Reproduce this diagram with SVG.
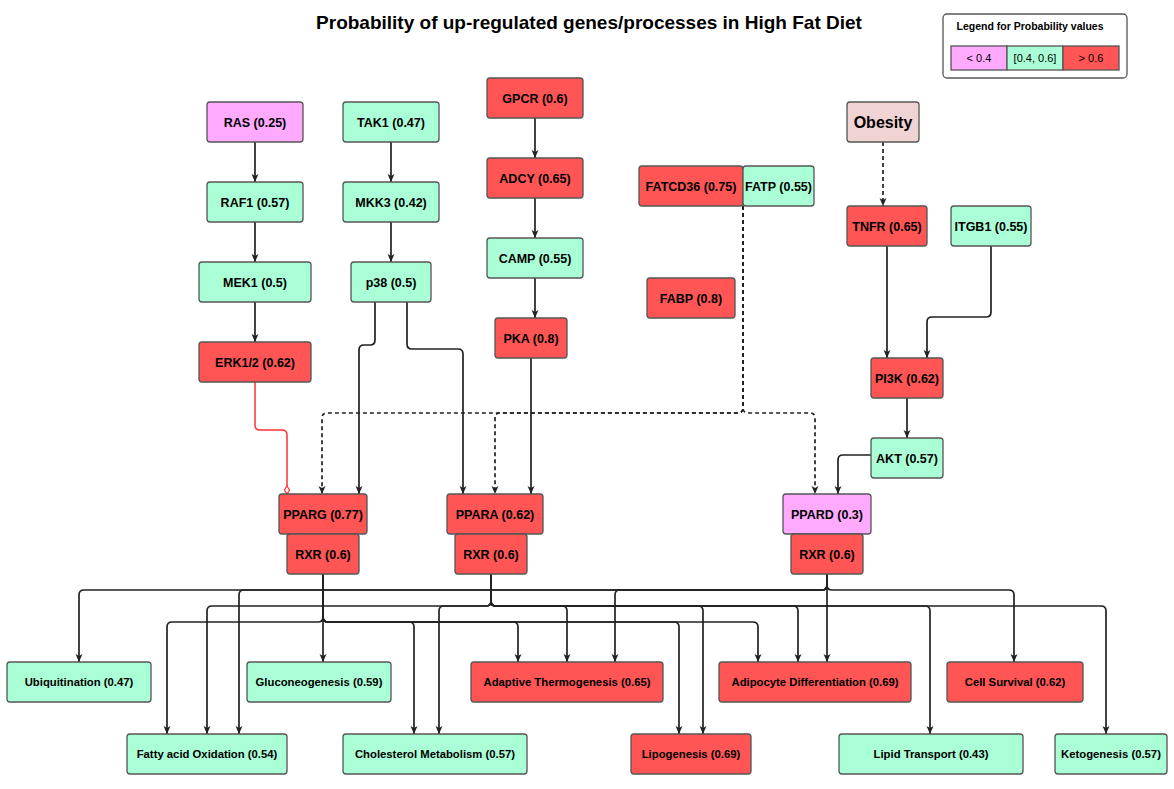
<svg xmlns="http://www.w3.org/2000/svg" width="1174" height="789" viewBox="0 0 1174 789">
<style>
.n rect{stroke:#555;stroke-width:1.3}
.r{fill:#FF5555}.g{fill:#AAFFD6}.p{fill:#FFAAFF}.o{fill:#F0D4D4}
text{font-family:"Liberation Sans",Arial,sans-serif;fill:#000;text-anchor:middle}
.t{font-size:12.5px;font-weight:bold}
.b{font-size:11.3px;font-weight:bold}
.e{fill:none;stroke:#222;stroke-width:1.7;marker-end:url(#a)}
.d{fill:none;stroke:#222;stroke-width:1.7;stroke-dasharray:4 3;marker-end:url(#a)}
</style>
<defs>
<marker id="a" markerUnits="userSpaceOnUse" markerWidth="10" markerHeight="9" refX="8" refY="3.5" orient="auto"><path d="M0,0 L8,3.5 L0,7 L2,3.5 Z" fill="#222" stroke="none"/></marker>
</defs>
<rect width="1174" height="789" fill="#fff"/>
<text x="589" y="29" style="font-size:19px;font-weight:bold">Probability of up-regulated genes/processes in High Fat Diet</text>
<g id="legend">
<rect x="943" y="14" width="184" height="64" rx="4" fill="#fff" stroke="#555" stroke-width="1.3"/>
<text x="1030" y="30" style="font-size:10.5px;font-weight:bold">Legend for Probability values</text>
<rect x="951" y="46" width="56" height="24" class="p" stroke="#555" stroke-width="1.3"/>
<rect x="1007" y="46" width="56" height="24" class="g" stroke="#555" stroke-width="1.3"/>
<rect x="1063" y="46" width="56" height="24" class="r" stroke="#555" stroke-width="1.3"/>
<text x="979" y="62" style="font-size:11px">&lt; 0.4</text>
<text x="1035" y="62" style="font-size:11px">[0.4, 0.6]</text>
<text x="1091" y="62" style="font-size:11px">&gt; 0.6</text>
</g>
<g id="connectors">
<path class="e" d="M255 142V182"/>
<path class="e" d="M255 222V262"/>
<path class="e" d="M255 302V342"/>
<path class="e" d="M391 142V182"/>
<path class="e" d="M391 222V262"/>
<path class="e" d="M535 118V158"/>
<path class="e" d="M535 198V238"/>
<path class="e" d="M535 278V318"/>
<path class="e" d="M375 302V340Q375 345 370 345H364Q359 345 359 350V494"/>
<path class="e" d="M407 302V344Q407 349 412 349H458Q463 349 463 354V494"/>
<path class="e" d="M531 358V494"/>
<path fill="none" stroke="#FF3333" stroke-width="1.5" d="M255 382V425Q255 430 260 430H282Q287 430 287 435V486"/>
<polygon points="287,486 289.5,490 287,494 284.5,490" fill="#fff" stroke="#FF3333" stroke-width="1.2"/>
<path class="d" d="M743 206V408Q743 413 738 413H327Q322 413 322 418V494"/>
<path class="d" d="M743 206V408Q743 413 738 413H500Q495 413 495 418V494"/>
<path class="d" d="M743 206V408Q743 413 748 413H810Q815 413 815 418V494"/>
<path class="d" d="M883 142V206"/>
<path class="e" d="M887 246V358"/>
<path class="e" d="M991 246V312Q991 317 986 317H932Q927 317 927 322V358"/>
<path class="e" d="M907 398V438"/>
<path class="e" d="M871 455H843Q838 455 838 460V494"/>
<path class="e" d="M323 574V617Q323 622 318 622H172Q167 622 167 627V734"/>
<path class="e" d="M323 574V662"/>
<path class="e" d="M323 574V617Q323 622 328 622H409Q414 622 414 627V734"/>
<path class="e" d="M323 574V617Q323 622 328 622H513Q518 622 518 627V662"/>
<path class="e" d="M323 574V617Q323 622 328 622H674Q679 622 679 627V734"/>
<path class="e" d="M323 574V617Q323 622 328 622H753Q758 622 758 627V662"/>
<path class="e" d="M491 574V601Q491 606 486 606H212Q207 606 207 611V734"/>
<path class="e" d="M491 574V601Q491 606 486 606H444Q439 606 439 611V734"/>
<path class="e" d="M491 574V601Q491 606 496 606H562Q567 606 567 611V662"/>
<path class="e" d="M491 574V601Q491 606 496 606H698Q703 606 703 611V734"/>
<path class="e" d="M491 574V601Q491 606 496 606H793Q798 606 798 611V662"/>
<path class="e" d="M491 574V601Q491 606 496 606H925Q930 606 930 611V734"/>
<path class="e" d="M491 574V601Q491 606 496 606H1101Q1106 606 1106 611V734"/>
<path class="e" d="M827 574V585Q827 590 822 590H84Q79 590 79 595V662"/>
<path class="e" d="M827 574V585Q827 590 822 590H244Q239 590 239 595V734"/>
<path class="e" d="M827 574V585Q827 590 822 590H620Q615 590 615 595V662"/>
<path class="e" d="M827 574V585Q827 590 832 590H1009Q1014 590 1014 595V662"/>
<path class="e" d="M827 574V662"/>
</g>
<g id="RAS" class="n"><rect x="207" y="102" width="96" height="40" rx="3" class="p"/><text x="255" y="126.5" class="t">RAS (0.25)</text></g>
<g id="RAF1" class="n"><rect x="207" y="182" width="96" height="40" rx="3" class="g"/><text x="255" y="206.5" class="t">RAF1 (0.57)</text></g>
<g id="MEK1" class="n"><rect x="199" y="262" width="112" height="40" rx="3" class="g"/><text x="255" y="286.5" class="t">MEK1 (0.5)</text></g>
<g id="ERK12" class="n"><rect x="199" y="342" width="112" height="40" rx="3" class="r"/><text x="255" y="366.5" class="t">ERK1/2 (0.62)</text></g>
<g id="TAK1" class="n"><rect x="343" y="102" width="96" height="40" rx="3" class="g"/><text x="391" y="126.5" class="t">TAK1 (0.47)</text></g>
<g id="MKK3" class="n"><rect x="343" y="182" width="96" height="40" rx="3" class="g"/><text x="391" y="206.5" class="t">MKK3 (0.42)</text></g>
<g id="p38" class="n"><rect x="351" y="262" width="80" height="40" rx="3" class="g"/><text x="391" y="286.5" class="t">p38 (0.5)</text></g>
<g id="GPCR" class="n"><rect x="487" y="78" width="96" height="40" rx="3" class="r"/><text x="535" y="102.5" class="t">GPCR (0.6)</text></g>
<g id="ADCY" class="n"><rect x="487" y="158" width="96" height="40" rx="3" class="r"/><text x="535" y="182.5" class="t">ADCY (0.65)</text></g>
<g id="CAMP" class="n"><rect x="487" y="238" width="96" height="40" rx="3" class="g"/><text x="535" y="262.5" class="t">CAMP (0.55)</text></g>
<g id="PKA" class="n"><rect x="495" y="318" width="72" height="40" rx="3" class="r"/><text x="531" y="342.5" class="t">PKA (0.8)</text></g>
<g id="FATCD36" class="n"><rect x="639" y="166" width="104" height="40" rx="3" class="r"/><text x="691" y="190.5" class="t">FATCD36 (0.75)</text></g>
<g id="FATP" class="n"><rect x="743" y="166" width="71" height="40" rx="3" class="g"/><text x="778.5" y="190.5" class="t">FATP (0.55)</text></g>
<g id="FABP" class="n"><rect x="647" y="278" width="88" height="40" rx="3" class="r"/><text x="691" y="302.5" class="t">FABP (0.8)</text></g>
<g id="Obesity" class="n"><rect x="847" y="102" width="72" height="40" rx="3" class="o"/><text x="883" y="128" style="font-size:16px;font-weight:bold">Obesity</text></g>
<g id="TNFR" class="n"><rect x="847" y="206" width="80" height="40" rx="3" class="r"/><text x="887" y="230.5" class="t">TNFR (0.65)</text></g>
<g id="ITGB1" class="n"><rect x="951" y="206" width="80" height="40" rx="3" class="g"/><text x="991" y="230.5" class="t">ITGB1 (0.55)</text></g>
<g id="PI3K" class="n"><rect x="871" y="358" width="72" height="40" rx="3" class="r"/><text x="907" y="382.5" class="t">PI3K (0.62)</text></g>
<g id="AKT" class="n"><rect x="871" y="438" width="72" height="40" rx="3" class="g"/><text x="907" y="462.5" class="t">AKT (0.57)</text></g>
<g id="PPARG" class="n"><rect x="279" y="494" width="88" height="40" rx="3" class="r"/><text x="323" y="518.5" class="t">PPARG (0.77)</text></g>
<g id="RXR1" class="n"><rect x="287" y="534" width="72" height="40" rx="3" class="r"/><text x="323" y="558.5" class="t">RXR (0.6)</text></g>
<g id="PPARA" class="n"><rect x="447" y="494" width="96" height="40" rx="3" class="r"/><text x="495" y="518.5" class="t">PPARA (0.62)</text></g>
<g id="RXR2" class="n"><rect x="455" y="534" width="72" height="40" rx="3" class="r"/><text x="491" y="558.5" class="t">RXR (0.6)</text></g>
<g id="PPARD" class="n"><rect x="783" y="494" width="88" height="40" rx="3" class="p"/><text x="827" y="518.5" class="t">PPARD (0.3)</text></g>
<g id="RXR3" class="n"><rect x="791" y="534" width="72" height="40" rx="3" class="r"/><text x="827" y="558.5" class="t">RXR (0.6)</text></g>
<g id="Ubiquitination" class="n"><rect x="7" y="662" width="144" height="40" rx="3" class="g"/><text x="79" y="686" class="b">Ubiquitination (0.47)</text></g>
<g id="Gluconeogenesis" class="n"><rect x="247" y="662" width="144" height="40" rx="3" class="g"/><text x="319" y="686" class="b">Gluconeogenesis (0.59)</text></g>
<g id="AdaptiveThermogenesis" class="n"><rect x="471" y="662" width="192" height="40" rx="3" class="r"/><text x="567" y="686" class="b">Adaptive Thermogenesis (0.65)</text></g>
<g id="AdipocyteDifferentiation" class="n"><rect x="719" y="662" width="192" height="40" rx="3" class="r"/><text x="815" y="686" class="b">Adipocyte Differentiation (0.69)</text></g>
<g id="CellSurvival" class="n"><rect x="947" y="662" width="136" height="40" rx="3" class="r"/><text x="1015" y="686" class="b">Cell Survival (0.62)</text></g>
<g id="FattyAcidOxidation" class="n"><rect x="127" y="734" width="160" height="40" rx="3" class="g"/><text x="207" y="758" class="b">Fatty acid Oxidation (0.54)</text></g>
<g id="CholesterolMetabolism" class="n"><rect x="343" y="734" width="184" height="40" rx="3" class="g"/><text x="435" y="758" class="b">Cholesterol Metabolism (0.57)</text></g>
<g id="Lipogenesis" class="n"><rect x="631" y="734" width="120" height="40" rx="3" class="r"/><text x="691" y="758" class="b">Lipogenesis (0.69)</text></g>
<g id="LipidTransport" class="n"><rect x="839" y="734" width="184" height="40" rx="3" class="g"/><text x="931" y="758" class="b">Lipid Transport (0.43)</text></g>
<g id="Ketogenesis" class="n"><rect x="1055" y="734" width="112" height="40" rx="3" class="g"/><text x="1111" y="758" class="b">Ketogenesis (0.57)</text></g>
</svg>
